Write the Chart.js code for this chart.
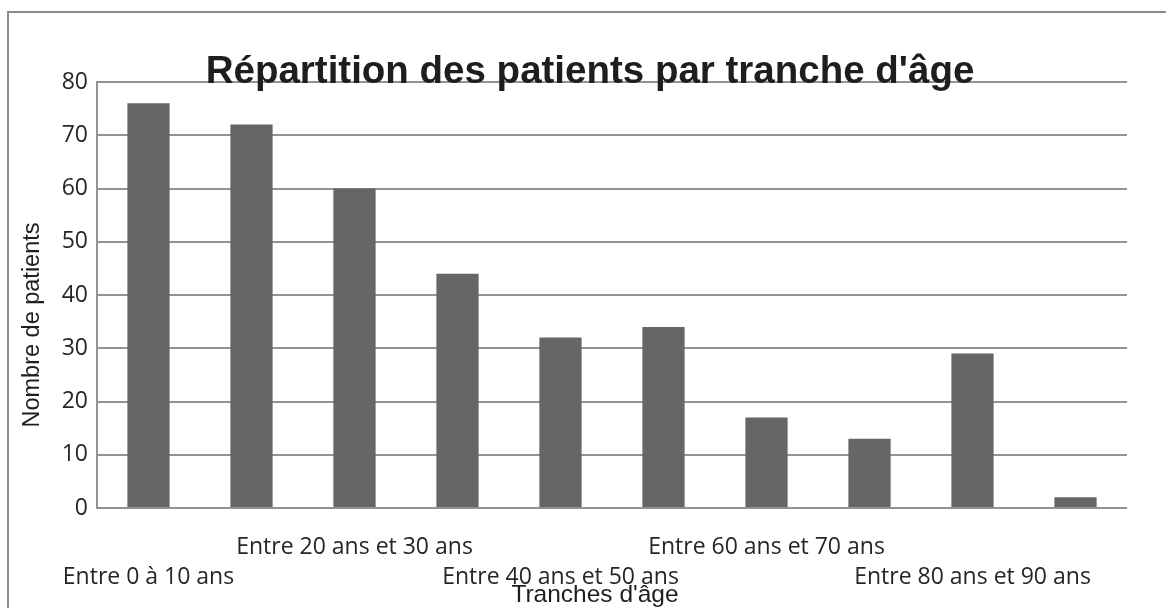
<!DOCTYPE html>
<html>
<head>
<meta charset="utf-8">
<script src="https://cdn.jsdelivr.net/npm/chart.js@4"></script>
<style>
  html, body { margin: 0; padding: 0; background: #fff; }
  #wrap { position: relative; width: 1166px; height: 608px; overflow: hidden; }
  #frame { position: absolute; left: 7px; top: 11px; width: 1200px; height: 700px;
           border-left: 2px solid #8c8c8c; border-top: 2px solid #8c8c8c; }
  canvas { position: absolute; left: 0; top: 0; }
</style>
</head>
<body>
<div id="wrap">
  <div id="frame"></div>
  <canvas id="myChart" width="1166" height="608"></canvas>
</div>
<script>
const tranches = ['Entre 0 à 10 ans', 'Entre 10 ans et 20 ans', 'Entre 20 ans et 30 ans',
  'Entre 30 ans et 40 ans', 'Entre 40 ans et 50 ans', 'Entre 50 ans et 60 ans',
  'Entre 60 ans et 70 ans', 'Entre 70 ans et 80 ans', 'Entre 80 ans et 90 ans',
  'Plus de 90 ans'];
const nbPatients = [76, 72, 60, 44, 32, 34, 17, 13, 29, 2];
const yTicks = [0, 10, 20, 30, 40, 50, 60, 70, 80];

const titre = "Répartition des patients par tranche d'âge";
const titreX = "Tranches d'âge";
const titreY = 'Nombre de patients';

// titres dessinés à la main pour les placer comme dans Excel
const textesPlugin = {
  id: 'textes',
  afterDraw(chart) {
    const ctx = chart.ctx;
    ctx.save();
    ctx.fillStyle = '#1e1e1e';
    ctx.textAlign = 'center';
    ctx.textBaseline = 'alphabetic';
    ctx.font = 'bold 38.5px "Liberation Sans", Arial, sans-serif';
    ctx.fillText(titre, 590, 83);

    ctx.font = '24.5px "Liberation Sans", Arial, sans-serif';
    ctx.fillText(titreX, 595, 602);

    ctx.translate(33, 325);
    ctx.rotate(-Math.PI / 2);
    ctx.textBaseline = 'middle';
    ctx.font = '23.5px "Liberation Sans", Arial, sans-serif';
    ctx.fillText(titreY, 0, 0);
    ctx.restore();
  }
};

function barChart() {
  const ctx = document.getElementById('myChart');
  new Chart(ctx, {
    type: 'bar',
    data: {
      labels: tranches,
      datasets: [{
        label: titreY,
        data: nbPatients,
        backgroundColor: '#666666',
        borderWidth: 0,
        barPercentage: 0.41,
        categoryPercentage: 1
      }]
    },
    options: {
      responsive: false,
      animation: false,
      layout: { padding: { top: 82, right: 39, bottom: 0, left: 0 } },
      scales: {
        x: {
          grid: { display: false },
          border: { display: false },
          afterFit: (scale) => { scale.height = 100; },
          ticks: {
            autoSkip: false,
            maxRotation: 0,
            minRotation: 0,
            padding: 16,
            color: '#262626',
            font: { family: '"Open Sans", sans-serif', size: 23, lineHeight: 30 / 23 },
            callback: function (value, index) {
              const txt = this.getLabelForValue(value);
              if (index % 2 === 1) return '';
              return index % 4 === 0 ? ['', txt] : [txt];
            }
          }
        },
        y: {
          min: 0,
          max: 80,
          afterFit: (scale) => { scale.width = 97; },
          afterBuildTicks: (scale) => { scale.ticks = yTicks.map(v => ({ value: v })); },
          grid: { color: '#939393', lineWidth: 2, drawTicks: false },
          border: { display: true, color: '#939393', width: 2 },
          ticks: {
            padding: 9,
            color: '#262626',
            font: { family: '"Open Sans", sans-serif', size: 23 }
          }
        }
      },
      plugins: {
        legend: { display: false },
        tooltip: { enabled: false },
        title: { display: false }
      }
    },
    plugins: [textesPlugin]
  });
}

window.addEventListener('DOMContentLoaded', function () {
  barChart();
});
</script>
</body>
</html>
